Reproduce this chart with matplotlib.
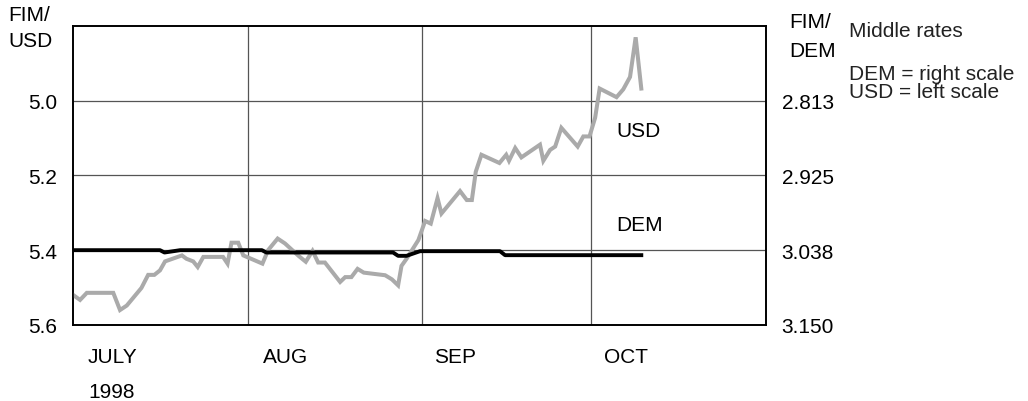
import matplotlib.pyplot as plt

# days since 1 July 1998
usd_days = [0.0, 1.2, 2.4, 7.1, 8.3, 9.5, 12.1, 13.3, 14.4, 15.4, 16.3, 19.3, 20.1,
            21.3, 22.1, 23.1, 26.6, 27.4, 28.1, 29.3, 30.2, 33.6, 34.6, 36.3, 37.6,
            40.0, 41.3, 42.5, 43.5, 44.7, 47.4, 48.3, 49.4, 50.5, 51.6, 55.4, 56.6,
            57.7, 58.3, 59.2, 61.3, 62.5, 63.5, 64.7, 65.4, 68.7, 69.9, 70.8, 71.5,
            72.5, 75.7, 76.9, 77.4, 78.5, 79.6, 82.9, 83.5, 84.7, 85.6, 86.7, 89.6,
            90.6, 91.7, 92.7, 93.5, 96.5, 97.7, 98.9, 99.9, 100.9]
usd_rate = [5.520, 5.533, 5.514, 5.514, 5.560, 5.548, 5.501, 5.466, 5.466, 5.454, 5.430,
            5.414, 5.423, 5.430, 5.445, 5.418, 5.418, 5.436, 5.380, 5.380, 5.414, 5.436,
            5.400, 5.369, 5.382, 5.415, 5.431, 5.402, 5.433, 5.433, 5.485, 5.472, 5.472,
            5.450, 5.460, 5.467, 5.478, 5.494, 5.442, 5.423, 5.373, 5.322, 5.329, 5.261,
            5.302, 5.242, 5.266, 5.266, 5.190, 5.145, 5.167, 5.145, 5.161, 5.127, 5.152,
            5.118, 5.161, 5.132, 5.123, 5.073, 5.123, 5.096, 5.096, 5.046, 4.968, 4.991,
            4.970, 4.937, 4.831, 4.968]

dem_days = [0.0, 15.4, 16.2, 19.0, 33.5, 34.3, 56.8, 57.7, 59.2, 61.6, 75.8, 76.7, 100.9]
dem_rate = [3.0375, 3.0375, 3.041, 3.0375, 3.0375, 3.041, 3.041, 3.046, 3.046, 3.039,
            3.039, 3.045, 3.045]

month_starts = [0, 31, 62, 92, 123]
month_labels = ['JULY', 'AUG', 'SEP', 'OCT']
left_ticks = [5.0, 5.2, 5.4, 5.6]
right_ticks = [2.8125, 2.925, 3.0375, 3.15]
right_labels = ['2.813', '2.925', '3.038', '3.150']

W, H = 1028, 402
FS = 15
plt.rcParams['font.family'] = ['Liberation Sans', 'DejaVu Sans']

fig = plt.figure(figsize=(W / 100, H / 100), dpi=100)
ax = fig.add_axes([73.3 / W, 1 - 326 / H, (765.7 - 73.3) / W, (326 - 26.7) / H])
ax2 = ax.twinx()

ax.set_xlim(month_starts[0], month_starts[-1])
ax.set_ylim(5.6, 4.8)
ax2.set_ylim(5.6 * 0.5625, 4.8 * 0.5625)

grid_c = '#555555'
for d in month_starts[1:-1]:
    ax.axvline(d, color=grid_c, lw=0.9, zorder=1)
for v in left_ticks[:-1]:
    ax.axhline(v, color=grid_c, lw=0.9, zorder=1)

ax.plot(usd_days, usd_rate, color='#aaaaaa', lw=2.9, zorder=3, solid_joinstyle='miter')
ax2.plot(dem_days, dem_rate, color='black', lw=2.8, zorder=3)

ax.set_xticks([])
ax.set_yticks(left_ticks)
ax.set_yticklabels([f'{v:.1f}' for v in left_ticks])
ax.tick_params(axis='y', length=0, pad=11.5, labelsize=FS)
ax2.set_yticks(right_ticks)
ax2.set_yticklabels(right_labels)
ax2.tick_params(axis='y', length=0, pad=11.5, labelsize=FS)
for a in (ax, ax2):
    for s in a.spines.values():
        s.set_linewidth(1.2)

xt = ax.get_xaxis_transform()
offs = [2.6, 2.7, 2.1, 2.3]
for d, lab, o in zip(month_starts, month_labels, offs):
    ax.text(d + o, -0.125, lab, transform=xt, fontsize=FS, va='baseline', ha='left')
ax.text(month_starts[0] + 2.6, -0.239, '1998', transform=xt, fontsize=FS,
        va='baseline', ha='left')

ax.text(96.4, 5.095, 'USD', fontsize=FS, va='baseline', ha='left')
ax.text(96.4, 5.347, 'DEM', fontsize=FS, va='baseline', ha='left')

def ftext(x, y, s, **kw):
    fig.text(x / W, 1 - y / H, s, fontsize=FS, va='baseline', ha='left', **kw)

ftext(8, 21, 'FIM/')
ftext(8, 47, 'USD')
ftext(789, 28.5, 'FIM/')
ftext(789, 57, 'DEM')
ftext(849, 37, 'Middle rates', color='#222222')
ftext(849, 80, 'DEM = right scale', color='#222222')
ftext(849, 98, 'USD = left scale', color='#222222')

fig.savefig('out.png', dpi=100)
